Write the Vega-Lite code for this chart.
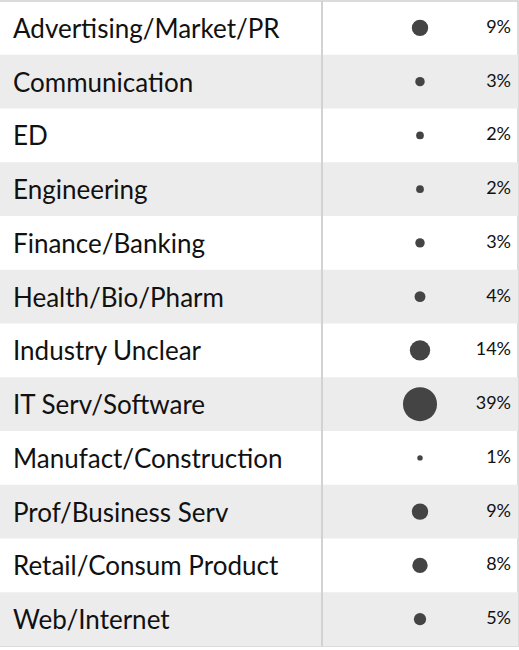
{
  "$schema": "https://vega.github.io/schema/vega-lite/v6.json",
  "width": 519,
  "height": 645,
  "padding": {"top": 1, "left": -1, "right": 1, "bottom": 4},
  "autosize": {"type": "none"},
  "background": "white",
  "config": {"view": {"stroke": "#cfcfcf", "strokeWidth": 1.5}},
  "data": {
    "values": [
      {"industry": "Advertising/Market/PR", "pct": 9},
      {"industry": "Communication", "pct": 3},
      {"industry": "ED", "pct": 2},
      {"industry": "Engineering", "pct": 2},
      {"industry": "Finance/Banking", "pct": 3},
      {"industry": "Health/Bio/Pharm", "pct": 4},
      {"industry": "Industry Unclear", "pct": 14},
      {"industry": "IT Serv/Software", "pct": 39},
      {"industry": "Manufact/Construction", "pct": 1},
      {"industry": "Prof/Business Serv", "pct": 9},
      {"industry": "Retail/Consum Product", "pct": 8},
      {"industry": "Web/Internet", "pct": 5}
    ]
  },
  "transform": [
    {"window": [{"op": "row_number", "as": "rn"}]},
    {"calculate": "datum.pct + '%'", "as": "label"}
  ],
  "encoding": {
    "y": {
      "field": "industry",
      "type": "nominal",
      "sort": null,
      "axis": null,
      "scale": {
        "type": "band",
        "paddingInner": 0,
        "paddingOuter": 0,
        "domain": ["Advertising/Market/PR", "Communication", "ED", "Engineering", "Finance/Banking", "Health/Bio/Pharm", "Industry Unclear", "IT Serv/Software", "Manufact/Construction", "Prof/Business Serv", "Retail/Consum Product", "Web/Internet"]
      }
    }
  },
  "layer": [
    {
      "transform": [{"filter": "datum.rn % 2 == 0"}],
      "mark": {"type": "rect", "color": "#ececec"}
    },
    {
      "mark": {"type": "rule", "color": "#d2d2d2", "strokeWidth": 1.5},
      "encoding": {
        "x": {"datum": 323, "type": "quantitative", "scale": {"domain": [0, 519], "nice": false, "zero": false}, "axis": null},
        "y": null
      }
    },
    {
      "mark": {"type": "text", "align": "left", "baseline": "middle", "font": "Lato", "fontSize": 26, "color": "#111111", "dy": 2},
      "encoding": {
        "x": {"datum": 14, "type": "quantitative"},
        "text": {"field": "industry"}
      }
    },
    {
      "mark": {"type": "circle", "color": "#444444", "opacity": 1},
      "encoding": {
        "x": {"datum": 421, "type": "quantitative"},
        "size": {"field": "pct", "type": "quantitative", "legend": null, "scale": {"domain": [0, 39], "range": [0, 1156], "zero": true}}
      }
    },
    {
      "mark": {"type": "text", "align": "right", "baseline": "middle", "font": "Lato", "fontSize": 18, "color": "#111111"},
      "encoding": {
        "x": {"datum": 512, "type": "quantitative"},
        "text": {"field": "label"}
      }
    }
  ]
}
